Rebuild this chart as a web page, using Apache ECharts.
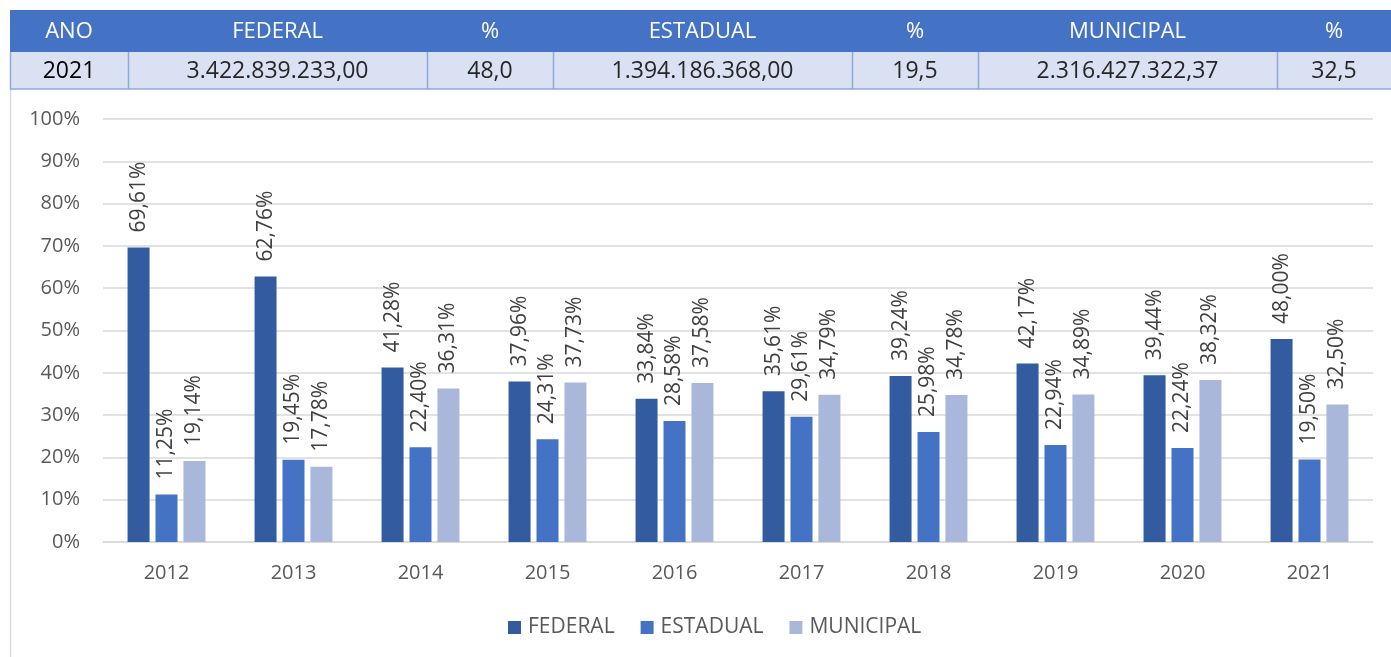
<!DOCTYPE html>
<html>
<head>
<meta charset="utf-8">
<script src="https://cdn.jsdelivr.net/npm/echarts@6/dist/echarts.min.js"></script>
<style>
html,body{margin:0;padding:0;background:#fff;}
#chart{width:1391px;height:657px;}
</style>
</head>
<body>
<div id="chart"></div>
<script>
// ---- data ----
var categories = ['2012','2013','2014','2015','2016','2017','2018','2019','2020','2021'];
var federal   = [69.61, 62.76, 41.28, 37.96, 33.84, 35.61, 39.24, 42.17, 39.44, 48.00];
var estadual  = [11.25, 19.45, 22.40, 24.31, 28.58, 29.61, 25.98, 22.94, 22.24, 19.50];
var municipal = [19.14, 17.78, 36.31, 37.73, 37.58, 34.79, 34.78, 34.89, 38.32, 32.50];
var seriesNames = ['FEDERAL','ESTADUAL','MUNICIPAL'];
var tableHeaders = ['ANO','FEDERAL','%','ESTADUAL','%','MUNICIPAL','%'];
var tableRow = ['2021','3.422.839.233,00','48,0','1.394.186.368,00','19,5','2.316.427.322,37','32,5'];

// ---- layout ----
var colEdges = [10,128,427,553,852,978,1277,1391];
var headTop = 10, headBot = 52, rowBot = 89;
var FONT = '"Open Sans", sans-serif';

var graphics = [];
// chart area left border
graphics.push({type:'line', shape:{x1:10.5,y1:rowBot,x2:10.5,y2:657}, style:{stroke:'#D9D9D9',lineWidth:1.5}, silent:true});
// header background
graphics.push({type:'rect', shape:{x:colEdges[0],y:headTop,width:colEdges[colEdges.length-1]-colEdges[0],height:headBot-headTop}, style:{fill:'#4472C4'}});
// data row background
graphics.push({type:'rect', shape:{x:colEdges[0],y:headBot,width:colEdges[colEdges.length-1]-colEdges[0],height:rowBot-headBot}, style:{fill:'#D9E1F2'}});
// row borders
graphics.push({type:'line', shape:{x1:colEdges[0],y1:rowBot,x2:1391,y2:rowBot}, style:{stroke:'#8EA9DB',lineWidth:1.5}});
for (var i=0;i<colEdges.length-1;i++){
  var cx = (colEdges[i]+colEdges[i+1])/2;
  graphics.push({type:'line', shape:{x1:colEdges[i]+0.5,y1:headBot,x2:colEdges[i]+0.5,y2:rowBot}, style:{stroke:'#8EA9DB',lineWidth:1.5}});
  graphics.push({type:'text', x:cx, y:(headTop+headBot)/2+1, style:{text:tableHeaders[i], fill:'#fff', font:'22px '+FONT, align:'center', verticalAlign:'middle'}});
  graphics.push({type:'text', x:cx, y:(headBot+rowBot)/2+1, style:{text:tableRow[i], fill:i===0?'#000':'#262626', font:(i===0?'500 ':'')+'23px '+FONT, align:'center', verticalAlign:'middle'}});
}

function fmt(p){ return p.value.toFixed(2).replace('.',',') + '%'; }
var colors = ['#335CA0','#4472C4','#A9B7DB'];
var dataSets = [federal, estadual, municipal];

var series = dataSets.map(function(d, k){
  return {
    name: seriesNames[k], type:'bar', data:d, barWidth:22, barGap:'27%',
    itemStyle:{color:colors[k]},
    label:{show:true, position:'top', rotate:90, align:'left', verticalAlign:'middle', distance:15,
      formatter:fmt, color:'#404040', fontSize:21, fontFamily:FONT}
  };
});

var chart = echarts.init(document.getElementById('chart'), null, {renderer:'canvas'});
chart.setOption({
  animation:false,
  backgroundColor:'#fff',
  color:colors,
  grid:{left:103, right:18, top:119, bottom:115, containLabel:false},
  legend:{
    data:seriesNames, left:503, top:612, icon:'rect', itemWidth:13, itemHeight:13, itemGap:26,
    textStyle:{color:'#595959', fontSize:21, fontFamily:FONT, padding:[0,0,0,2]}
  },
  xAxis:{
    type:'category', data:categories,
    axisLine:{lineStyle:{color:'#D9D9D9', width:1.5}}, axisTick:{show:false},
    axisLabel:{color:'#595959', fontSize:20, fontFamily:FONT, margin:21}
  },
  yAxis:{
    type:'value', min:0, max:100, interval:10,
    axisLine:{show:false}, axisTick:{show:false},
    splitLine:{lineStyle:{color:'#D9D9D9', width:1.5}},
    axisLabel:{color:'#595959', fontSize:20, fontFamily:FONT, margin:23, formatter:'{value}%'}
  },
  series: series,
  graphic: graphics
});
</script>
</body>
</html>
